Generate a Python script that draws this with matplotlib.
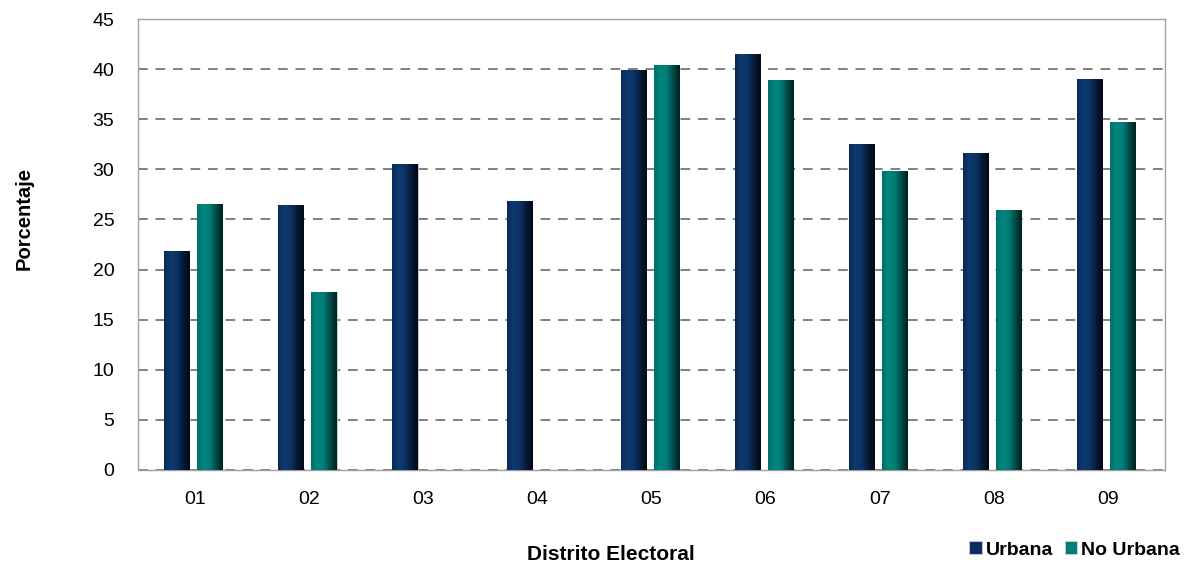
import matplotlib.pyplot as plt
from matplotlib.colors import LinearSegmentedColormap
import numpy as np

plt.rcParams['font.family'] = ['Liberation Sans', 'DejaVu Sans']

distritos = ["01", "02", "03", "04", "05", "06", "07", "08", "09"]
urbana = [21.9, 26.4, 30.5, 26.8, 39.9, 41.5, 32.5, 31.6, 39.0]
no_urbana = [26.5, 17.8, np.nan, np.nan, 40.4, 38.9, 29.8, 25.9, 34.7]

color_urb = "#0c2f5f"
color_nourb = "#007f78"

# sombreado horizontal para imitar el efecto de volumen de las barras
cmap_urb = LinearSegmentedColormap.from_list(
    "urb", ["#0a2a55", "#0e3a70", "#0c3266", "#061a36", "#020a16"])
cmap_nourb = LinearSegmentedColormap.from_list(
    "nourb", ["#00706a", "#00877f", "#007c75", "#004a46", "#00201f"])

fig = plt.figure(figsize=(11.87, 5.65), dpi=100)
ax = fig.add_axes([138 / 1187, 1 - 470 / 565, (1165 - 138) / 1187, (470 - 19) / 565])

x = np.arange(len(distritos))
w = 0.22
b1 = ax.bar(x - 0.16, urbana, w, color=color_urb, edgecolor="#c8d0dc", linewidth=0.6,
            label="Urbana", zorder=3)
b2 = ax.bar(x + 0.13, no_urbana, w, color=color_nourb, edgecolor="#c8d8d8", linewidth=0.6,
            label="No Urbana", zorder=3)

grad = np.linspace(0, 1, 64).reshape(1, -1)
for bars, cm in ((b1, cmap_urb), (b2, cmap_nourb)):
    for p in bars:
        h = p.get_height()
        if not np.isfinite(h) or h <= 0:
            continue
        x0 = p.get_x()
        im = ax.imshow(grad, cmap=cm, aspect="auto", extent=(x0, x0 + p.get_width(), 0, h),
                       zorder=3.5, interpolation="bilinear")
        im.set_clip_path(p)

ax.set_xlim(-0.5, len(distritos) - 0.5)
ax.set_ylim(0, 45)
ax.set_yticks(range(0, 46, 5))
ax.set_xticks(x)
ax.set_xticklabels(distritos)
ax.tick_params(axis="y", length=0, labelsize=14, pad=17)
ax.tick_params(axis="x", length=0, labelsize=14, pad=15)
ax.yaxis.grid(True, color="#808080", linestyle=(0, (5, 4)), linewidth=1.4, zorder=0)

for s in ax.spines.values():
    s.set_color("#a0a0a0")
    s.set_linewidth(1.0)

fig.text(611 / 1187, 1 - 554 / 565, "Distrito Electoral", ha="center", va="center",
         fontsize=15, fontweight="bold")
fig.text(24 / 1187, 1 - 219 / 565, "Porcentaje", ha="center", va="center",
         rotation=90, fontsize=14.5, fontweight="bold")

leg = fig.legend(loc="center right", bbox_to_anchor=(1180 / 1187, 1 - 550 / 565),
                 ncol=2, frameon=False, prop={"weight": "bold", "size": 14},
                 handlelength=0.65, handleheight=0.65, handletextpad=0.2, columnspacing=0.6,
                 borderaxespad=0, borderpad=0)

fig.savefig("out.png", dpi=100)
